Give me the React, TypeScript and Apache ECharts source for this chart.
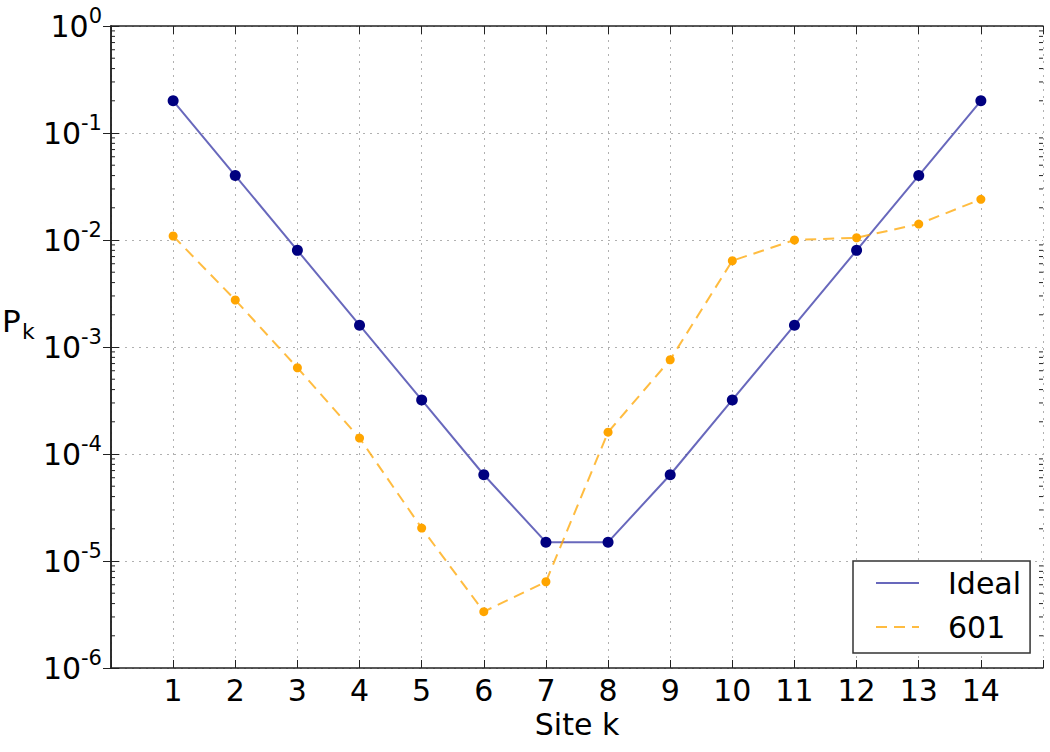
import React, { useEffect, useRef } from 'react';
import * as echarts from 'echarts';

const sites = [1, 2, 3, 4, 5, 6, 7, 8, 9, 10, 11, 12, 13, 14];
const idealValues = [0.2, 0.04, 0.008, 0.0016, 0.00032, 0.000064, 0.000015, 0.000015, 0.000064, 0.00032, 0.0016, 0.008, 0.04, 0.2];
const values601 = [0.0109, 0.00275, 0.00064, 0.000141, 0.0000203, 0.00000336, 0.0000064, 0.00016, 0.00076, 0.0064, 0.01, 0.0105, 0.0141, 0.024];
const minorMantissas = [2, 3, 4, 5, 6, 7, 8, 9];
const minorDecades = [-6, -5, -4, -3, -2, -1];

const FONT = 'DejaVu Sans';
const FRAME = '#222';

export default function App() {
  const ref = useRef<HTMLDivElement>(null);
  useEffect(() => {
    if (!ref.current) return;
    const chart = echarts.init(ref.current, null, { renderer: 'svg' });
    const minorTicks: number[][] = [];
    minorDecades.forEach((d) => minorMantissas.forEach((m) => minorTicks.push([0, m * Math.pow(10, d)])));
    const idealData = sites.map((s, i) => [s, idealValues[i]]);
    const data601 = sites.map((s, i) => [s, values601[i]]);

    const xBase = {
      type: 'value',
      min: 0,
      max: 15,
      interval: 1,
      axisLine: { show: true, onZero: false, lineStyle: { color: FRAME, width: 1.5 } },
      axisTick: { show: true, inside: true, length: 8, lineStyle: { color: FRAME, width: 1 } },
    };
    const yBase = {
      type: 'log',
      logBase: 10,
      min: 1e-6,
      max: 1,
      splitNumber: 6,
      axisLine: { show: true, lineStyle: { color: FRAME, width: 1.5 } },
      axisTick: { show: true, inside: true, length: 8, lineStyle: { color: FRAME, width: 1 } },
    };

    chart.setOption({
      animation: false,
      grid: { left: 111, right: 7, top: 26, bottom: 84, containLabel: false },
      xAxis: [
        {
          ...xBase,
          position: 'bottom',
          name: 'Site k',
          nameLocation: 'middle',
          nameGap: 38,
          nameTextStyle: { fontSize: 30, fontFamily: FONT, color: '#000', lineHeight: 30 },
          axisLabel: {
            margin: 7,
            fontSize: 30,
            fontFamily: FONT,
            color: '#000',
            formatter: (v: number) => (v >= 1 && v <= 14 ? String(v) : ''),
          },
          splitLine: { show: true, lineStyle: { color: '#b0b0b0', type: [2, 5], width: 1 } },
        },
        {
          ...xBase,
          position: 'top',
          axisLabel: { show: false },
          splitLine: { show: false },
        },
      ],
      yAxis: [
        {
          ...yBase,
          position: 'left',
          axisLabel: {
            margin: 9,
            formatter: (v: number) => `{b|10}{s|${Math.round(Math.log10(v))}}`,
            rich: {
              b: { fontSize: 30, lineHeight: 42, verticalAlign: 'middle', fontFamily: FONT, color: '#000' },
              s: { fontSize: 21, lineHeight: 21, verticalAlign: 'top', fontFamily: FONT, color: '#000' },
            },
          },
          splitLine: { show: true, lineStyle: { color: '#b0b0b0', type: [2, 5], width: 1 } },
        },
        {
          ...yBase,
          position: 'right',
          axisLabel: { show: false },
          splitLine: { show: false },
        },
      ],
      legend: {
        data: ['Ideal', '601'],
        orient: 'vertical',
        left: 853,
        top: 561,
        padding: [5, 9, 9, 22],
        itemWidth: 43,
        itemHeight: 14,
        itemGap: 10,
        backgroundColor: '#fff',
        borderColor: '#333',
        borderWidth: 1.5,
        borderRadius: 0,
        itemStyle: { opacity: 0 },
        textStyle: { fontSize: 30, fontFamily: FONT, color: '#000', lineHeight: 34, padding: [0, 0, 0, 24] },
      },
      graphic: [
        { type: 'text', left: 2, top: 305, style: { text: 'P', fontSize: 31, fontFamily: FONT, fill: '#000' } },
        { type: 'text', left: 22, top: 320, style: { text: 'k', fontSize: 22, fontFamily: FONT, fill: '#000' } },
      ],
      series: [
        {
          type: 'custom',
          name: 'minor',
          xAxisIndex: 0,
          yAxisIndex: 0,
          silent: true,
          clip: false,
          z: 10,
          data: minorTicks,
          renderItem: (params: any, api: any) => {
            const v = api.value(1);
            const l = api.coord([0, v]);
            const r = api.coord([15, v]);
            return {
              type: 'group',
              children: [
                { type: 'line', shape: { x1: l[0], y1: l[1], x2: l[0] + 4, y2: l[1] }, style: { stroke: FRAME, lineWidth: 1 } },
                { type: 'line', shape: { x1: r[0] - 4, y1: r[1], x2: r[0], y2: r[1] }, style: { stroke: FRAME, lineWidth: 1 } },
              ],
            };
          },
        },
        {
          type: 'line',
          name: 'Ideal',
          data: idealData,
          symbol: 'none',
          lineStyle: { color: 'rgba(40,40,160,0.7)', width: 2 },
          itemStyle: { color: 'rgba(40,40,160,0.7)' },
          z: 3,
        },
        {
          type: 'scatter',
          name: 'Ideal markers',
          data: idealData,
          symbol: 'circle',
          symbolSize: 11,
          itemStyle: { color: '#000080', opacity: 1 },
          z: 4,
        },
        {
          type: 'line',
          name: '601',
          data: data601,
          symbol: 'none',
          lineStyle: { color: 'rgba(255,165,0,0.75)', width: 2, type: [11, 7] },
          itemStyle: { color: 'rgba(255,165,0,0.75)' },
          z: 5,
        },
        {
          type: 'scatter',
          name: '601 markers',
          data: data601,
          symbol: 'circle',
          symbolSize: 9,
          itemStyle: { color: '#ffa500', opacity: 1 },
          z: 6,
        },
      ],
    });
    return () => chart.dispose();
  }, []);
  return <div ref={ref} style={{ position: 'absolute', left: 0, top: 0, width: 1050, height: 752 }} />;
}
